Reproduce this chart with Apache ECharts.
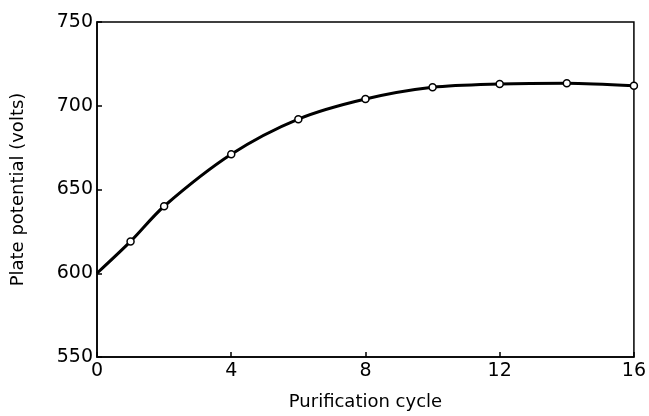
<!DOCTYPE html>
<html>
<head>
<meta charset="utf-8">
<script src="https://cdn.jsdelivr.net/npm/echarts@6/dist/echarts.min.js"></script>
<style>html,body{margin:0;padding:0;background:#fff}#c{width:649px;height:416px}</style>
</head>
<body>
<div id="c"></div>
<script>
const cycles = [0, 1, 2, 4, 6, 8, 10, 12, 14, 16];
const potential = [600, 619, 640, 671, 692, 704, 711, 713, 713.5, 712];
const xTicks = [0, 4, 8, 12, 16];
const yTicks = [550, 600, 650, 700, 750];
const xName = 'Purification cycle';
const yName = 'Plate potential (volts)';

const font = 'DejaVu Sans';
const chart = echarts.init(document.getElementById('c'), null, {renderer: 'canvas'});
const data = cycles.map((c, i) => i === 0 ? {value: [c, potential[i]], symbol: 'none'} : [c, potential[i]]);
chart.setOption({
  animation: false,
  backgroundColor: '#fff',
  grid: {left: 97, right: 10, top: 22, bottom: 55, show: true, borderColor: '#000', borderWidth: 1.5, backgroundColor: 'transparent'},
  xAxis: {
    type: 'value', min: xTicks[0], max: xTicks[xTicks.length - 1], interval: 4,
    name: xName, nameLocation: 'middle', nameGap: 36,
    nameTextStyle: {fontFamily: font, fontSize: 18, color: '#000'},
    axisLine: {lineStyle: {color: '#000', width: 1.5}},
    axisTick: {inside: true, length: 5, lineStyle: {color: '#000', width: 1.5}},
    axisLabel: {fontFamily: font, fontSize: 19, color: '#000', margin: 5},
    splitLine: {show: false}
  },
  yAxis: {
    type: 'value', min: yTicks[0], max: yTicks[yTicks.length - 1], interval: 50,
    name: yName, nameLocation: 'middle', nameGap: 70, nameRotate: 90,
    nameTextStyle: {fontFamily: font, fontSize: 18, color: '#000'},
    axisLine: {lineStyle: {color: '#000', width: 1.5}},
    axisTick: {inside: true, length: 5, lineStyle: {color: '#000', width: 1.5}},
    axisLabel: {fontFamily: font, fontSize: 19, color: '#000', margin: 4},
    splitLine: {show: false}
  },
  series: [{
    type: 'line', data: data, smooth: 0.3,
    lineStyle: {color: '#000', width: 3},
    symbol: 'circle', symbolSize: 7,
    itemStyle: {color: '#fff', borderColor: '#000', borderWidth: 1.5},
    z: 5
  }]
});
</script>
</body>
</html>
